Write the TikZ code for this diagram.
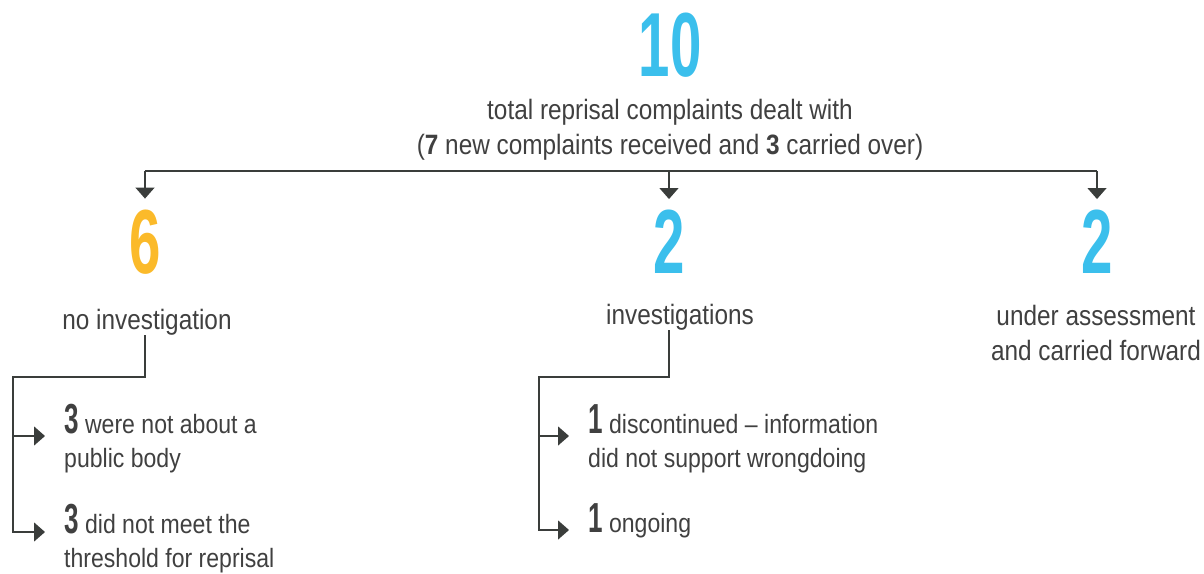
\documentclass[tikz,border=0pt]{standalone}
\usepackage{fontspec}
\setmainfont{Liberation Sans}[FakeStretch=0.87]
\newfontfamily\numfont{Liberation Sans}[FakeStretch=0.62]
\usetikzlibrary{positioning, arrows.meta}
\definecolor{numblue}{HTML}{3BBFEC}
\definecolor{numgold}{HTML}{FBBA2A}
\definecolor{ink}{HTML}{404040}
\definecolor{wire}{HTML}{3A3D3B}
\newcommand{\smallnum}[1]{{\numfont\bfseries\fontsize{42}{35}\selectfont #1}}

\begin{document}
\begin{tikzpicture}[x=1pt, y=-1pt, >={Triangle[width=19pt,length=11pt]},
    every node/.style={inner sep=0pt, text=ink, font=\fontsize{28}{35}\selectfont},
    big/.style={font=\numfont\bfseries\fontsize{91}{91}\selectfont},
    item/.style={anchor=north west, align=left, font=\fontsize{26.5}{34}\selectfont},
    link/.style={draw=wire, line width=1.3pt}]
    \useasboundingbox (0,0) rectangle (1204,573);

    \node[big, text=numblue] (ten) at (670,45) {10};
    \node[align=center] (total) at (670,130) {total reprisal complaints dealt with\\(\textbf{7} new complaints received and \textbf{3} carried over)};

    \node[big, text=numgold] (six) at (145,242) {6};
    \node[big, text=numblue] (two) at (669,242) {2};
    \node[big, text=numblue] (twob) at (1097,242) {2};

    \node (noinv) at (147,322) {no investigation};
    \node (invs) at (680,317) {investigations};
    \node[align=center] (under) at (1096,333) {under assessment\\and carried forward};

    \node[item] (pub) at (64,404) {\smallnum{3} were not about a\\public body};
    \node[item] (thr) at (64,504) {\smallnum{3} did not meet the\\threshold for reprisal};
    \node[item] (disc) at (588,404) {\smallnum{1} discontinued -- information\\did not support wrongdoing};
    \node[item] (ong) at (588,503) {\smallnum{1} ongoing};

    % branches from the total
    \coordinate (bl) at (145,171);
    \coordinate (br) at (1097,171);
    \draw[link] (bl) -- (br);
    \foreach \n in {six,two,twob}
        \draw[link, ->, shorten >=11pt] (bl -| \n) -- (\n);

    % sub-branches
    \coordinate (lj) at (13,377);
    \coordinate (pa) at (45,436);
    \coordinate (ta) at (45,532);
    \draw[link, ->] (six |- noinv.south) |- (lj) |- (ta);
    \draw[link, ->] (lj |- pa) -- (pa);

    \coordinate (mj) at (539,377);
    \coordinate (da) at (569,436);
    \coordinate (oa) at (569,530);
    \draw[link, ->] (two |- invs.south) |- (mj) |- (oa);
    \draw[link, ->] (mj |- da) -- (da);
\end{tikzpicture}
\end{document}
